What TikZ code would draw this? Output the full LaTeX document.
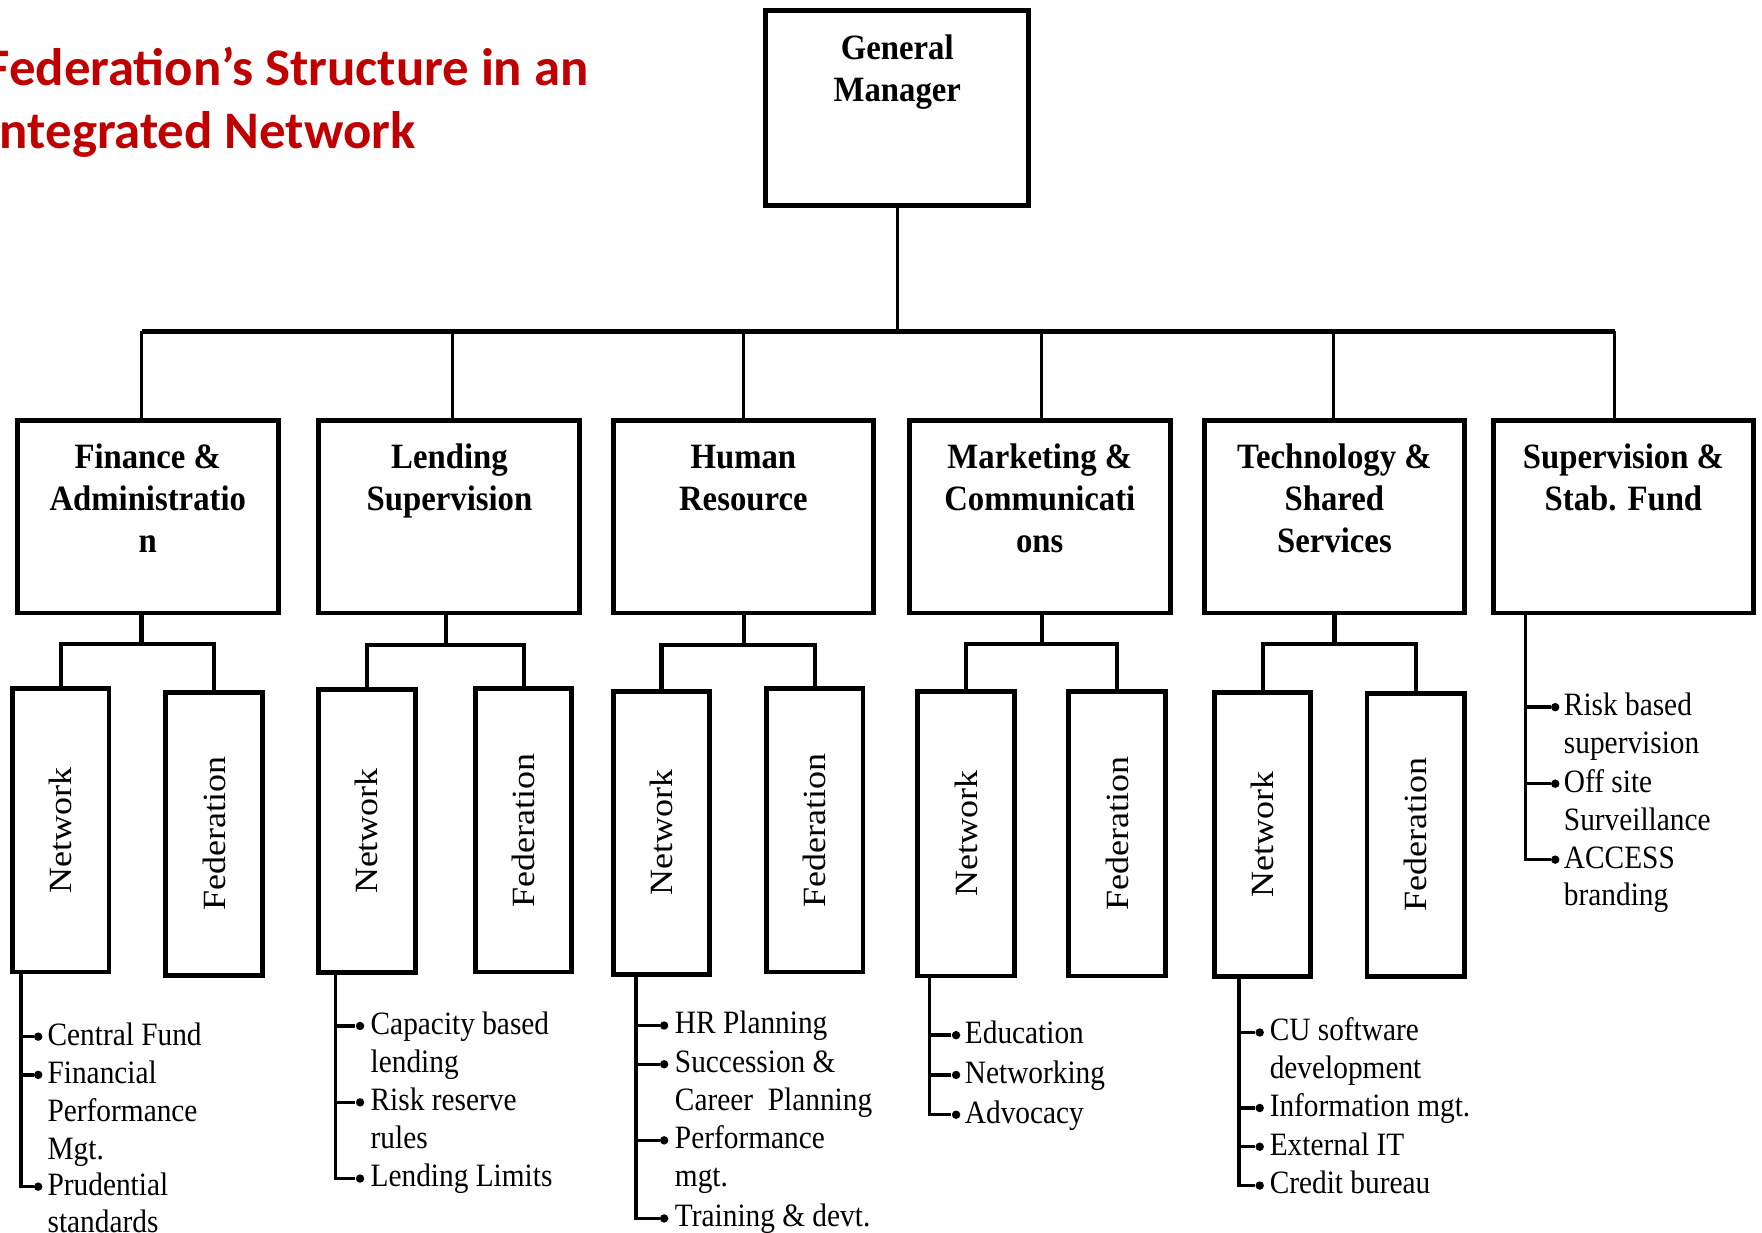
\documentclass[tikz,border=0pt]{standalone}
\usepackage{fontspec}
\setmainfont{Liberation Serif}
\newfontfamily\bodyf[FakeStretch=0.9]{Liberation Serif}
\newfontfamily\headf[FakeStretch=0.92]{Liberation Serif}
\newfontfamily\titlef{Carlito}
\usetikzlibrary{calc}
\def\ux{0.5618pt}
\definecolor{titlered}{RGB}{192,0,0}
\tikzset{
  box/.style={draw, line width=4.3*\ux, inner sep=0pt, outer sep=0pt, anchor=north west},
  bus/.style={line width=5*\ux},
  thinln/.style={line width=2.6*\ux},
  sub/.style={line width=3.8*\ux},
  bl/.style={line width=3*\ux},
  dot/.style={circle, fill=black, inner sep=0pt, minimum size=7.5*\ux},
  title/.style={font=\titlef\bfseries\fontsize{26.4}{31}\selectfont, text=titlered, inner sep=0pt, anchor=base west},
  head/.style={font=\headf\bfseries\fontsize{17.8}{21.1}\selectfont, align=center, inner sep=0pt, anchor=base},
  rot/.style={font=\fontsize{18}{20}\selectfont, rotate=90, yscale=0.9, inner sep=0pt},
  btxt/.style={font=\bodyf\fontsize{16.3}{18.93}\selectfont, align=left, inner sep=0pt, anchor=base west},
}
\newcommand\mkbox[5]{\node[box, minimum width={(#4-#2)*\ux}, minimum height={(#5-#3)*\ux}] (#1) at (#2,#3) {};}
\begin{document}
\begin{tikzpicture}[x=\ux, y=-\ux]
\clip (0,0) rectangle (1568,1097.2);
\fill[white] (0,0) rectangle (1568,1097.2);
% title
\node[title] (t1) at (-13,76.5) {Federation’s Structure in an};
\node[title] (t2) at (-13,132.5) {Integrated Network};
% general manager
\mkbox{gm}{681.5}{9.5}{915.5}{183}
\node[head] (gmt) at (798.5,90.4) {General\\Manager};
% bus
\coordinate (b1) at (126,295);
\coordinate (b2) at (403,295);
\coordinate (b3) at (662,295);
\coordinate (b4) at (927,295);
\coordinate (b5) at (1187,295);
\coordinate (b6) at (1437,295);
\draw[thinln] (gm.south) -- (gm.south |- b1);
\draw[bus] (b1) -- (b6);
% departments
\mkbox{fin}{15.5}{374.5}{247.5}{545.5}
\mkbox{len}{283.5}{374.5}{515.5}{545.5}
\mkbox{hr}{546}{374.5}{777}{545.5}
\mkbox{mkt}{809}{374.5}{1041.5}{545.5}
\mkbox{tec}{1071.5}{374.5}{1303.5}{545.5}
\mkbox{sup}{1329}{374.5}{1560.5}{545.5}
\draw[thinln] (b1) -- (b1 |- fin.north);
\draw[thinln] (b2) -- (b2 |- len.north);
\draw[thinln] (b3) -- (b3 |- hr.north);
\draw[thinln] (b4) -- (b4 |- mkt.north);
\draw[thinln] (b5) -- (b5 |- tec.north);
\draw[thinln] (b6) -- (b6 |- sup.north);
\node[head] (fint) at (131.5,491.6) {Finance \&\\Administratio\\n};
\node[head] (lent) at (400,454.1) {Lending\\Supervision};
\node[head] (hrt) at (661.5,454.1) {Human\\Resource};
\node[head] (mktt) at (925.3,491.6) {Marketing \&\\Communicati\\ons};
\node[head] (tect) at (1187.5,491.6) {Technology \&\\Shared\\Services};
\node[head] (supt) at (1444.7,454.1) {Supervision \&\\Stab. Fund};
% network / federation boxes
\mkbox{fnet}{11}{613}{97}{865}
\mkbox{ffed}{147.5}{616}{233.5}{868}
\mkbox{lnet}{283.5}{613.5}{369.5}{865.5}
\mkbox{lfed}{423.5}{613}{508.5}{865}
\mkbox{hnet}{546}{615}{631.5}{867}
\mkbox{hfed}{682}{613}{768}{865}
\mkbox{mnet}{816.5}{615.5}{903}{868.5}
\mkbox{mfed}{951}{615.5}{1037}{868.5}
\mkbox{tnet}{1081}{616}{1166.5}{869}
\mkbox{tfed}{1216.5}{617}{1303.5}{869}
\foreach \n in {fnet,lnet,hnet,mnet,tnet} {\node[rot] at (\n.center) {Network};}
\foreach \n in {ffed,lfed,hfed,mfed,tfed} {\node[rot] at (\n.center) {Federation};}
% sub connectors
\coordinate (s1) at (126,573);
\coordinate (s2) at (397,574);
\coordinate (s3) at (662,574);
\coordinate (s4) at (927,573);
\coordinate (s5) at (1187.6,573);
\draw[sub] (fin.south -| s1) -- (s1);
\draw[sub] (fnet.north) |- (s1) -| (ffed.north);
\draw[sub] (len.south -| s2) -- (s2);
\draw[sub] (lnet.north) |- (s2) -| (lfed.north);
\draw[sub] (hr.south -| s3) -- (s3);
\draw[sub] (hnet.north) |- (s3) -| (hfed.north);
\draw[sub] (mkt.south -| s4) -- (s4);
\draw[sub] (mnet.north) |- (s4) -| (mfed.north);
\draw[sub] (tec.south -| s5) -- (s5);
\draw[sub] (tnet.north) |- (s5) -| (tfed.north);
% ---- Finance bullets
\coordinate (fv) at (18.7,0);
\node[dot] (fd1) at (34,922.5) {};
\node[dot] (fd2) at (34,956.5) {};
\node[dot] (fd3) at (34,1056) {};
\draw[bl] (fnet.south -| fv) |- (fd3);
\draw[bl] (fv |- fd1) -- (fd1);
\draw[bl] (fv |- fd2) -- (fd2);
\node[btxt] (ft1) at (42,930) {Central Fund};
\node[btxt] (ft2) at (42,1031.4) {Financial\\Performance\\Mgt.};
\node[btxt] (ft3) at (42,1097.2) {Prudential\\standards};
% ---- Lending bullets
\coordinate (lv) at (298.4,0);
\node[dot] (ld1) at (320.4,913) {};
\node[dot] (ld2) at (320.4,981) {};
\node[dot] (ld3) at (320.4,1048.8) {};
\draw[bl] (lnet.south -| lv) |- (ld3);
\draw[bl] (lv |- ld1) -- (ld1);
\draw[bl] (lv |- ld2) -- (ld2);
\node[btxt] (lt1) at (329.5,954.2) {Capacity based\\lending};
\node[btxt] (lt2) at (329.5,1022.2) {Risk reserve\\rules};
\node[btxt] (lt3) at (329.5,1056.3) {Lending Limits};
% ---- HR bullets
\coordinate (hv) at (566,0);
\node[dot] (hd1) at (591,912.6) {};
\node[dot] (hd2) at (591,947.1) {};
\node[dot] (hd3) at (591,1014.8) {};
\node[dot] (hd4) at (591,1084.3) {};
\draw[bl] (hnet.south -| hv) |- (hd4);
\draw[bl] (hv |- hd1) -- (hd1);
\draw[bl] (hv |- hd2) -- (hd2);
\draw[bl] (hv |- hd3) -- (hd3);
\node[btxt] (ht1) at (600.3,920) {HR Planning};
\node[btxt] (ht2) at (600.3,988.3) {Succession \&\\Career~ Planning};
\node[btxt] (ht3) at (600.3,1056) {Performance\\mgt.};
\node[btxt] (ht4) at (600.3,1091.8) {Training \& devt.};
% ---- Marketing bullets
\coordinate (mv) at (827.3,0);
\node[dot] (md1) at (850.8,921.2) {};
\node[dot] (md2) at (850.8,956.6) {};
\node[dot] (md3) at (850.8,992) {};
\draw[bl] (mnet.south -| mv) |- (md3);
\draw[bl] (mv |- md1) -- (md1);
\draw[bl] (mv |- md2) -- (md2);
\node[btxt] (mt1) at (858.3,928.7) {Education};
\node[btxt] (mt2) at (858.3,964) {Networking};
\node[btxt] (mt3) at (858.3,999.5) {Advocacy};
% ---- Technology bullets
\coordinate (tv) at (1102.6,0);
\node[dot] (td1) at (1121,918.8) {};
\node[dot] (td2) at (1121,986) {};
\node[dot] (td3) at (1121,1020.5) {};
\node[dot] (td4) at (1121,1055) {};
\draw[bl] (tnet.south -| tv) |- (td4);
\draw[bl] (tv |- td1) -- (td1);
\draw[bl] (tv |- td2) -- (td2);
\draw[bl] (tv |- td3) -- (td3);
\node[btxt] (tt1) at (1129.6,960) {CU software\\development};
\node[btxt] (tt2) at (1129.6,993.5) {Information mgt.};
\node[btxt] (tt3) at (1129.6,1028) {External IT};
\node[btxt] (tt4) at (1129.6,1062.5) {Credit bureau};
% ---- Supervision bullets
\coordinate (sv) at (1357.3,0);
\node[dot] (sd1) at (1384,629.3) {};
\node[dot] (sd2) at (1384,697.4) {};
\node[dot] (sd3) at (1384,765) {};
\draw[bl] (sup.south -| sv) |- (sd3);
\draw[bl] (sv |- sd1) -- (sd1);
\draw[bl] (sv |- sd2) -- (sd2);
\node[btxt] (st1) at (1391.4,670.5) {Risk based\\supervision};
\node[btxt] (st2) at (1391.4,738.7) {Off site\\Surveillance};
\node[btxt] (st3) at (1391.4,806.2) {ACCESS\\branding};
\end{tikzpicture}
\end{document}
